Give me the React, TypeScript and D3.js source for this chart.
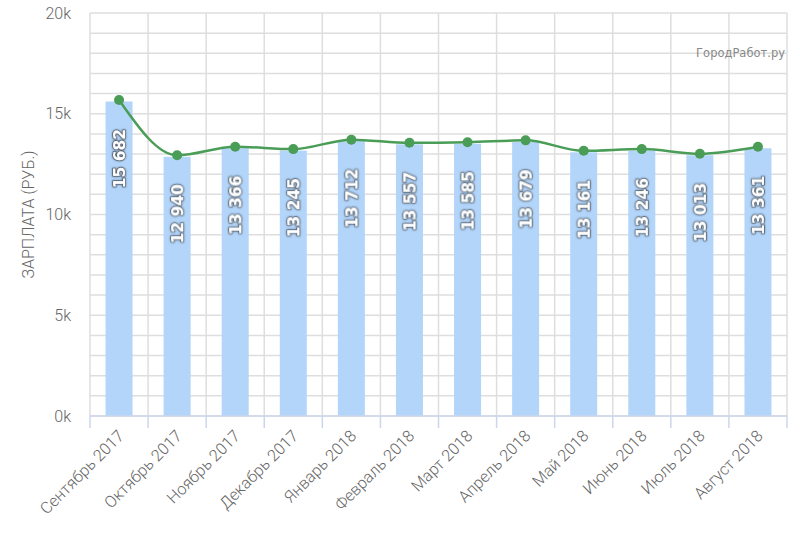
import * as d3 from "d3";

const MONTHS = [
  "Сентябрь 2017",
  "Октябрь 2017",
  "Ноябрь 2017",
  "Декабрь 2017",
  "Январь 2018",
  "Февраль 2018",
  "Март 2018",
  "Апрель 2018",
  "Май 2018",
  "Июнь 2018",
  "Июль 2018",
  "Август 2018",
];
const SALARY = [15682, 12940, 13366, 13245, 13712, 13557, 13585, 13679, 13161, 13246, 13013, 13361];
const Y_TICKS = [0, 5000, 10000, 15000, 20000];
const Y_TITLE = "ЗАРПЛАТА (РУБ.)";
const WATERMARK = "ГородРабот.ру";

const WIDTH = 800;
const HEIGHT = 533;
const MARGIN = { top: 13, right: 13, bottom: 117, left: 90 };
const PLOT_WIDTH = WIDTH - MARGIN.left - MARGIN.right;
const PLOT_HEIGHT = HEIGHT - MARGIN.top - MARGIN.bottom;

const GRID_COLOR = "#dedede";
const AXIS_COLOR = "#ccd6eb";
const LABEL_COLOR = "#666666";
const BAR_COLOR = "#b3d5fa";
const LINE_COLOR = "#4a9d56";

const formatValue = (v: number) => d3.format(",")(v).replace(",", " ");

export default function App() {
  const x = d3.scaleBand<string>().domain(MONTHS).range([0, PLOT_WIDTH]).paddingInner(0).paddingOuter(0);
  const y = d3.scaleLinear().domain([0, 20000]).range([PLOT_HEIGHT, 0]);
  const barWidth = x.bandwidth() * 0.465;
  const gridValues = d3.range(0, 20001, 1000);

  const points = MONTHS.map((m, i) => ({ x: (x(m) ?? 0) + x.bandwidth() / 2, y: y(SALARY[i]) }));
  const line = d3
    .line<{ x: number; y: number }>()
    .x((p) => p.x)
    .y((p) => p.y)
    .curve(d3.curveMonotoneX);

  const boundaries = d3.range(MONTHS.length + 1).map((i) => i * x.step());

  return (
    <svg width={WIDTH} height={HEIGHT} style={{ position: "absolute", left: 0, top: 0, background: "#fff" }}>
      <defs>
        <filter id="labelShadow" x="-30%" y="-30%" width="160%" height="160%">
          <feDropShadow dx="0" dy="0" stdDeviation="1" floodColor="#000" floodOpacity="0.6" />
        </filter>
      </defs>
      <g transform={`translate(${MARGIN.left} ${MARGIN.top})`}>
        {gridValues.map((v) => (
          <line key={v} x1={0} x2={PLOT_WIDTH} y1={y(v)} y2={y(v)} stroke={GRID_COLOR} strokeWidth={1.5} />
        ))}
        {boundaries.map((bx, i) => (
          <line key={i} x1={bx} x2={bx} y1={0} y2={PLOT_HEIGHT} stroke={GRID_COLOR} strokeWidth={1.5} />
        ))}
        {MONTHS.map((m, i) => (
          <rect
            key={m}
            x={(x(m) ?? 0) + (x.bandwidth() - barWidth) / 2}
            y={y(SALARY[i]) + 1.5}
            width={barWidth}
            height={PLOT_HEIGHT - y(SALARY[i]) - 1.5}
            fill={BAR_COLOR}
          />
        ))}
        <line x1={0} x2={PLOT_WIDTH} y1={PLOT_HEIGHT} y2={PLOT_HEIGHT} stroke={AXIS_COLOR} strokeWidth={1.5} />
        {boundaries.map((bx, i) => (
          <line key={i} x1={bx} x2={bx} y1={PLOT_HEIGHT} y2={PLOT_HEIGHT + 12} stroke={AXIS_COLOR} strokeWidth={1.5} />
        ))}
        <path d={line(points) ?? undefined} fill="none" stroke={LINE_COLOR} strokeWidth={2.5} />
        {points.map((p, i) => (
          <circle key={i} cx={p.x} cy={p.y} r={5} fill={LINE_COLOR} />
        ))}
        {MONTHS.map((m, i) => {
          const cx = (x(m) ?? 0) + x.bandwidth() / 2;
          const ty = y(SALARY[i]) + 29;
          return (
            <text
              key={m}
              transform={`translate(${cx} ${ty}) rotate(-90)`}
              textAnchor="end"
              dy="0.36em"
              fontFamily="DejaVu Sans"
              fontWeight="bold"
              fontSize={15.5}
              fill="#ffffff"
              stroke="#333"
              strokeOpacity={0.45}
              strokeWidth={2}
              strokeLinejoin="round"
              paintOrder="stroke"
              filter="url(#labelShadow)"
            >
              {formatValue(SALARY[i])}
            </text>
          );
        })}
        {Y_TICKS.map((v) => (
          <text
            key={v}
            x={-19}
            y={y(v)}
            dy="0.35em"
            textAnchor="end"
            fontFamily="Roboto"
            fontWeight={300}
            fontSize={16}
            fill={LABEL_COLOR}
          >
            {`${v / 1000}k`}
          </text>
        ))}
        {MONTHS.map((m) => {
          const cx = (x(m) ?? 0) + x.bandwidth() / 2 + 6;
          return (
            <text
              key={m}
              transform={`translate(${cx} ${PLOT_HEIGHT + 21}) rotate(-45)`}
              textAnchor="end"
              fontFamily="Roboto"
              fontWeight={300}
              fontSize={16.2}
              fill={LABEL_COLOR}
            >
              {m}
            </text>
          );
        })}
      </g>
      <text
        transform={`translate(34 ${MARGIN.top + PLOT_HEIGHT / 2}) rotate(-90)`}
        textAnchor="middle"
        fontFamily="Roboto"
        fontWeight={300}
        fontSize={16}
        fill={LABEL_COLOR}
      >
        {Y_TITLE}
      </text>
      <text x={785} y={57} textAnchor="end" fontFamily="DejaVu Sans" fontSize={11.5} fill="#888">
        {WATERMARK}
      </text>
    </svg>
  );
}
